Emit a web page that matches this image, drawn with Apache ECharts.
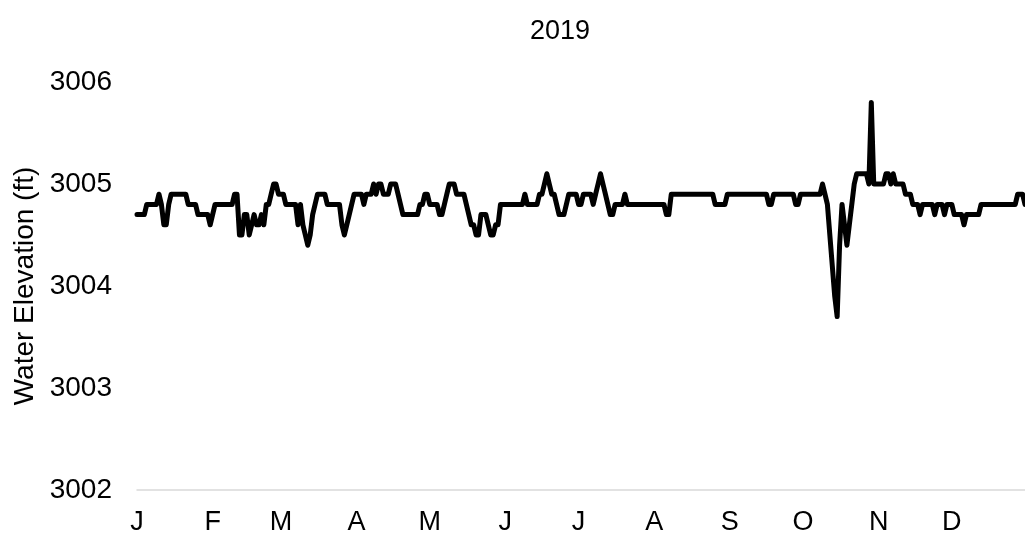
<!DOCTYPE html>
<html>
<head>
<meta charset="utf-8">
<title>2019 Water Elevation</title>
<script src="https://cdn.jsdelivr.net/npm/echarts@6/dist/echarts.min.js"></script>
<style>
	html,body{margin:0;padding:0;background:#fff;}
	#main{width:1025px;height:538px;}
</style>
</head>
<body>
<div id="main"></div>
<script>
	// daily water elevation (ft), one array per month
	var jan=[3004.7,3004.7,3004.7,3004.7,3004.8,3004.8,3004.8,3004.8,3004.8,3004.9,3004.8,3004.6,3004.6,3004.8,3004.9,3004.9,3004.9,3004.9,3004.9,3004.9,3004.9,3004.8,3004.8,3004.8,3004.8,3004.7,3004.7,3004.7,3004.7,3004.7,3004.6];
	var feb=[3004.7,3004.8,3004.8,3004.8,3004.8,3004.8,3004.8,3004.8,3004.8,3004.9,3004.9,3004.5,3004.5,3004.7,3004.7,3004.5,3004.6,3004.7,3004.6,3004.6,3004.7,3004.6,3004.8,3004.8,3004.9,3005.0,3005.0,3004.9];
	var mar=[3004.9,3004.9,3004.8,3004.8,3004.8,3004.8,3004.8,3004.6,3004.8,3004.6,3004.5,3004.4,3004.5,3004.7,3004.8,3004.9,3004.9,3004.9,3004.9,3004.8,3004.8,3004.8,3004.8,3004.8,3004.8,3004.6,3004.5,3004.6,3004.7,3004.8,3004.9];
	var apr=[3004.9,3004.9,3004.9,3004.8,3004.9,3004.9,3004.9,3005.0,3004.9,3005.0,3005.0,3004.9,3004.9,3004.9,3005.0,3005.0,3005.0,3004.9,3004.8,3004.7,3004.7,3004.7,3004.7,3004.7,3004.7,3004.7,3004.8,3004.8,3004.9,3004.9];
	var may=[3004.8,3004.8,3004.8,3004.8,3004.7,3004.7,3004.8,3004.9,3005.0,3005.0,3005.0,3004.9,3004.9,3004.9,3004.9,3004.8,3004.7,3004.6,3004.6,3004.5,3004.5,3004.7,3004.7,3004.7,3004.6,3004.5,3004.5,3004.6,3004.6,3004.8,3004.8];
	var jun=[3004.8,3004.8,3004.8,3004.8,3004.8,3004.8,3004.8,3004.8,3004.9,3004.8,3004.8,3004.8,3004.8,3004.8,3004.9,3004.9,3005.0,3005.1,3005.0,3004.9,3004.9,3004.8,3004.7,3004.7,3004.7,3004.8,3004.9,3004.9,3004.9,3004.9];
	var jul=[3004.8,3004.8,3004.9,3004.9,3004.9,3004.9,3004.8,3004.9,3005.0,3005.1,3005.0,3004.9,3004.8,3004.7,3004.7,3004.8,3004.8,3004.8,3004.8,3004.9,3004.8,3004.8,3004.8,3004.8,3004.8,3004.8,3004.8,3004.8,3004.8,3004.8,3004.8];
	var aug=[3004.8,3004.8,3004.8,3004.8,3004.8,3004.7,3004.7,3004.9,3004.9,3004.9,3004.9,3004.9,3004.9,3004.9,3004.9,3004.9,3004.9,3004.9,3004.9,3004.9,3004.9,3004.9,3004.9,3004.9,3004.9,3004.8,3004.8,3004.8,3004.8,3004.8,3004.9];
	var sep=[3004.9,3004.9,3004.9,3004.9,3004.9,3004.9,3004.9,3004.9,3004.9,3004.9,3004.9,3004.9,3004.9,3004.9,3004.9,3004.9,3004.8,3004.8,3004.9,3004.9,3004.9,3004.9,3004.9,3004.9,3004.9,3004.9,3004.9,3004.8,3004.8,3004.9];
	var oct=[3004.9,3004.9,3004.9,3004.9,3004.9,3004.9,3004.9,3004.9,3005.0,3004.9,3004.8,3004.5,3004.2,3003.9,3003.7,3004.4,3004.8,3004.6,3004.4,3004.6,3004.8,3005.0,3005.1,3005.1,3005.1,3005.1,3005.1,3005.0,3005.8,3005.0,3005.0];
	var nov=[3005.0,3005.0,3005.0,3005.1,3005.1,3005.0,3005.1,3005.0,3005.0,3005.0,3005.0,3004.9,3004.9,3004.9,3004.8,3004.8,3004.8,3004.7,3004.8,3004.8,3004.8,3004.8,3004.8,3004.7,3004.8,3004.8,3004.8,3004.7,3004.8,3004.8];
	var dec=[3004.8,3004.7,3004.7,3004.7,3004.7,3004.6,3004.7,3004.7,3004.7,3004.7,3004.7,3004.7,3004.8,3004.8,3004.8,3004.8,3004.8,3004.8,3004.8,3004.8,3004.8,3004.8,3004.8,3004.8,3004.8,3004.8,3004.8,3004.9,3004.9,3004.9,3004.8];

	var monthLabels=['J','F','M','A','M','J','J','A','S','O','N','D'];
	var yTicks={min:3002,max:3006,interval:1};

	var months=[jan,feb,mar,apr,may,jun,jul,aug,sep,oct,nov,dec];
	var elevation=[];
	var days=[];
	var firstOfMonth={};
	for(var m=0;m<months.length;m++){
		firstOfMonth[days.length]=monthLabels[m];
		for(var d=0;d<months[m].length;d++){
			days.push('2019-'+(m+1)+'-'+(d+1));
			elevation.push(months[m][d]);
		}
	}

	var font='"Liberation Sans", Arial, sans-serif';
	var myChart=echarts.init(document.getElementById('main'));
	var option={
		animation:false,
		title:{
			text:'2019',
			left:530,
			top:18,
			padding:0,
			textStyle:{fontFamily:font,fontSize:27,fontWeight:'normal',color:'#000'}
		},
		grid:{left:137,right:0,top:82,bottom:48,containLabel:false},
		xAxis:{
			type:'category',
			boundaryGap:false,
			data:days,
			axisLine:{lineStyle:{color:'#d9d9d9',width:1.5}},
			axisTick:{show:false},
			splitLine:{show:false},
			axisLabel:{
				interval:function(idx){return firstOfMonth[idx]!==undefined;},
				formatter:function(val,idx){return firstOfMonth[idx]||'';},
				margin:19,
				fontFamily:font,
				fontSize:27,
				color:'#000'
			}
		},
		yAxis:{
			type:'value',
			min:yTicks.min,
			max:yTicks.max,
			interval:yTicks.interval,
			name:'Water Elevation (ft)',
			nameLocation:'middle',
			nameGap:98,
			nameTextStyle:{fontFamily:font,fontSize:28,color:'#000'},
			axisLine:{show:false},
			axisTick:{show:false},
			splitLine:{show:false},
			axisLabel:{
				margin:25,
				fontFamily:font,
				fontSize:28,
				color:'#000',
				formatter:function(v){return String(v);}
			}
		},
		series:[{
			type:'line',
			data:elevation,
			showSymbol:false,
			symbol:'none',
			lineStyle:{color:'#000',width:5,cap:'round',join:'round'}
		}]
	};
	myChart.setOption(option);
</script>
</body>
</html>
